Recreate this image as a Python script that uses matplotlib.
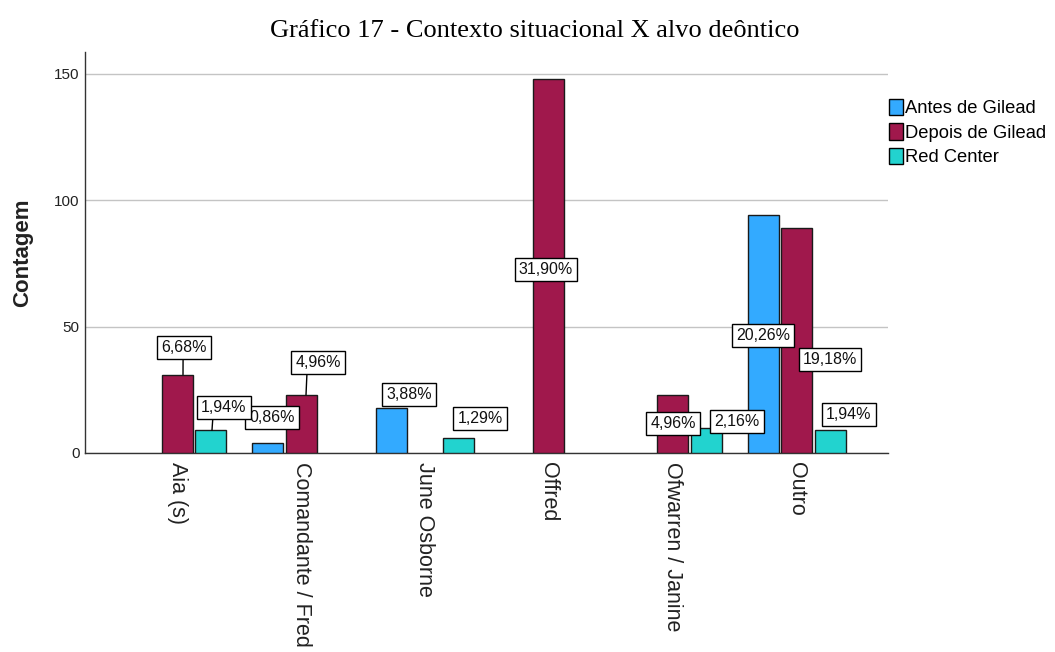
import numpy as np
import matplotlib
matplotlib.use("Agg")
from matplotlib import pyplot as plt
from matplotlib import transforms

# data
categories = ["Aia (s)", "Comandante / Fred", "June Osborne", "Offred",
              "Ofwarren / Janine", "Outro"]
series = ["Antes de Gilead", "Depois de Gilead", "Red Center"]
antes = [None, 4, 18, None, None, 94]
depois = [31, 23, None, 148, 23, 89]
red_center = [9, None, 6, None, 10, 9]
pct_antes = [None, "0,86%", "3,88%", None, None, "20,26%"]
pct_depois = ["6,68%", "4,96%", None, "31,90%", "4,96%", "19,18%"]
pct_red = ["1,94%", None, "1,29%", None, "2,16%", "1,94%"]

colors = ["#33AAFF", "#A0184C", "#22D3CF"]

# label box offsets from the bar top (pixels), and x of leader line (None = no line)
label_pos = {
    (0, 1): (5, 25, None), (0, 2): (18, 13, None), (0, 5): (0, -120, None),
    (1, 0): (7, 27, 6), (1, 1): (17, 32, 5), (1, 3): (-3, -190, None),
    (1, 4): (0, -29, None), (1, 5): (33, -131, None),
    (2, 0): (13, 23, 1), (2, 2): (21, 19, None), (2, 4): (30, 6, None),
    (2, 5): (18, 16, None),
}

plt.rcParams['font.family'] = ['Liberation Sans', 'DejaVu Sans']

fig = plt.figure(figsize=(10.55, 6.52), dpi=100)
ax = fig.add_axes([85/1055, 1-453/652, (888-85)/1055, (453-52)/652])

x = np.arange(len(categories))
width = 0.25
step = 0.274
values = [antes, depois, red_center]
pcts = [pct_antes, pct_depois, pct_red]

for s in range(3):
    xs, hs = [], []
    for i, v in enumerate(values[s]):
        if v is not None:
            xs.append(x[i] + (s - 1) * step)
            hs.append(v)
    ax.bar(xs, hs, width, color=colors[s], edgecolor="#1a1a1a", linewidth=1,
           label=series[s], zorder=3)

for s in range(3):
    for i, txt in enumerate(pcts[s]):
        if txt is None:
            continue
        dx, dy, lx = label_pos[(s, i)]
        xb = x[i] + (s - 1) * step
        arrow = None
        if lx is None:
            lx = dx
        else:
            # leader line from the box bottom straight down to the bar top
            arrow = dict(arrowstyle="-", color="black", lw=1, shrinkA=0, shrinkB=0,
                         relpos=(0.5 + (lx - dx) / 50, 0))
        trans = transforms.offset_copy(ax.transData, fig=fig, x=lx, y=0, units="dots")
        ax.annotate(txt, (xb, values[s][i]), xycoords=trans, xytext=(dx - lx, dy),
                    textcoords="offset pixels", ha="center", va="center",
                    fontsize=11.5, color="#111111", zorder=5,
                    bbox=dict(boxstyle="square,pad=0.25", fc="white", ec="black", lw=1),
                    arrowprops=arrow)

ax.set_xlim(-0.742, 5.734)
ax.set_ylim(0, 158.7)
ax.set_yticks([0, 50, 100, 150])
ax.yaxis.grid(True, color="#c4c4c4", lw=1, zorder=0)
ax.set_axisbelow(True)
for sp in ["top", "right"]:
    ax.spines[sp].set_visible(False)
for sp in ["left", "bottom"]:
    ax.spines[sp].set_color("#333333")
    ax.spines[sp].set_linewidth(1)

ax.set_xticks(x)
ax.set_xticklabels(categories, rotation=270, ha="center", va="top", fontsize=15.5,
                   color="#222222")
shift = transforms.ScaledTranslation(-4/100, 0, fig.dpi_scale_trans)
for lab in ax.get_xticklabels():
    lab.set_transform(lab.get_transform() + shift)
ax.tick_params(axis="x", length=0, pad=6.5)
ax.tick_params(axis="y", length=0, pad=4, labelsize=11, labelcolor="#222222")

ax.set_ylabel("Contagem", fontsize=16, fontweight="bold", color="#222222", va="center")
ax.yaxis.set_label_coords((23-85)/803, 0.5)

fig.text(535/1055, 1-31/652, "Gráfico 17 - Contexto situacional X alvo deôntico",
         ha="center", va="center", fontsize=19, family="Liberation Serif")

fig.legend(loc="upper left", bbox_to_anchor=(889/1055, 1-99/652), frameon=False,
           fontsize=13.2, handlelength=0.75, handleheight=1.0, handletextpad=0.12,
           borderpad=0, borderaxespad=0, labelspacing=0.32)
for h in fig.legends[0].legend_handles:
    h.set_edgecolor("black")

fig.savefig("out.png", dpi=100)
